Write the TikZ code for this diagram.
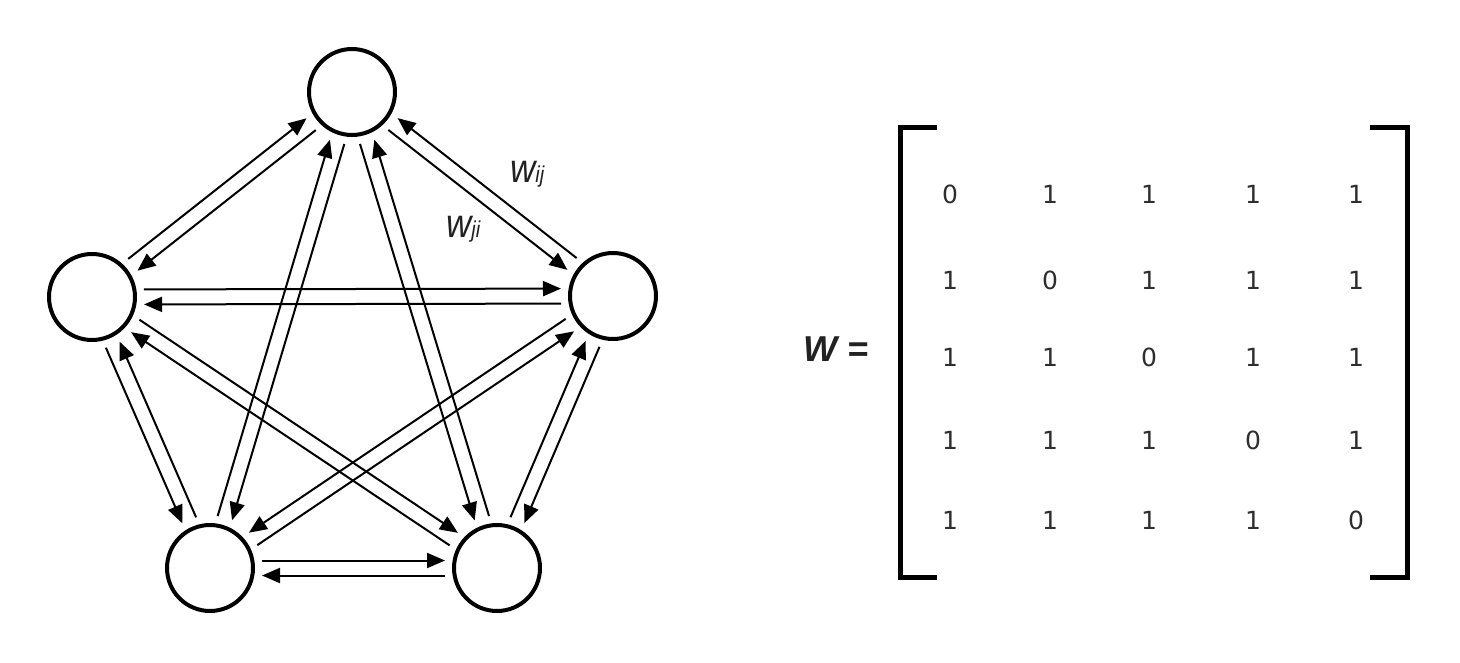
\documentclass[tikz,border=0pt]{standalone}
\usepackage{fontspec}
\setmainfont{Liberation Sans}
\newfontfamily\digitfont{DejaVu Sans}
\usetikzlibrary{calc,arrows.meta}
\definecolor{txt}{HTML}{222222}
\definecolor{dgt}{HTML}{2E2E2E}
% one directed line from #1 to #2, offset on side #3 (seen from #1) / #4 (seen from #2)
\newcommand\pairline[4]{%
  \draw[link] ($(#1.center)!52pt!(#2.center)!7.5pt!#3:(#2.center)$) --
              ($(#2.center)!52pt!(#1.center)!7.5pt!#4:(#1.center)$);}
\newcommand\ccwpair[2]{\pairline{#1}{#2}{90}{-90}\pairline{#2}{#1}{90}{-90}}
\newcommand\cwpair[2]{\pairline{#1}{#2}{-90}{90}\pairline{#2}{#1}{-90}{90}}
\begin{document}
\begin{tikzpicture}[x=1pt,y=-1pt,
  nd/.style={circle,draw,line width=4pt,minimum size=86pt,inner sep=0pt},
  link/.style={line width=2pt,-{Triangle[length=18pt,width=15pt]}},
  wlab/.style={anchor=base west,inner sep=0pt,text=txt},
  dig/.style={inner sep=0pt,text=dgt,font=\digitfont\fontsize{25}{27}\selectfont},
  brk/.style={line width=5pt,line join=miter,line cap=rect}]
\useasboundingbox (0,0) rectangle (1460,662);
% nodes
\node[nd] (T)  at (352,92)  {};
\node[nd] (L)  at (92,297)  {};
\node[nd] (R)  at (613,296) {};
\node[nd] (BL) at (210,568) {};
\node[nd] (BR) at (497,568) {};
% connector pairs
\ccwpair{L}{T}
\cwpair{T}{R}
\ccwpair{L}{R}
\ccwpair{BL}{BR}
\cwpair{L}{BL}
\ccwpair{R}{BR}
\ccwpair{T}{BL}
\cwpair{T}{BR}
\ccwpair{L}{BR}
\cwpair{R}{BL}
% labels
\node[wlab] (wij) at (510,182) {\scalebox{1}[1.15]{\itshape\fontsize{35}{37}\selectfont w\fontsize{20}{22}\selectfont ij}};
\node[wlab] (wji) at (446,237) {\scalebox{1}[1.15]{\itshape\fontsize{35}{37}\selectfont w\fontsize{20}{22}\selectfont ji}};
% matrix
\node[anchor=base west,inner sep=0pt,text=txt,font=\bfseries\itshape\fontsize{36}{38}\selectfont] (Weq) at (803,361) {W =};
\draw[brk] (934,127) -- (900,127) -- (900,577) -- (934,577);
\draw[brk] (1372,127) -- (1407,127) -- (1407,577) -- (1372,577);
\foreach \yy [count=\i] in {194,280,357,440,520}{
  \foreach \xx [count=\j] in {950,1050,1149,1253,1356}{
    \node[dig] (m\i\j) at (\xx,\yy) {\ifnum\i=\j\relax 0\else 1\fi};
  }}
\end{tikzpicture}
\end{document}
